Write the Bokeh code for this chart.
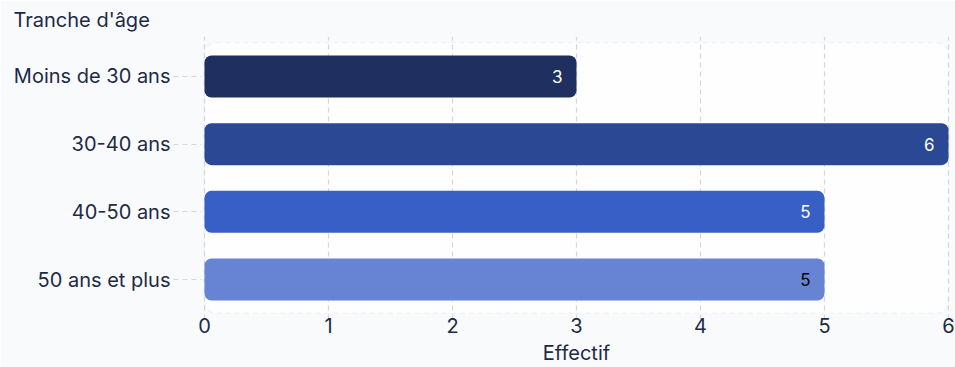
from bokeh.plotting import figure
from bokeh.models import Range1d, FixedTicker, BoxAnnotation, Title, ColumnDataSource, FactorRange
from bokeh.core.properties import value
from bokeh.embed import file_html
from bokeh.resources import INLINE

categories = ["Moins de 30 ans", "30-40 ans", "40-50 ans", "50 ans et plus"]
counts = [3, 6, 5, 5]
bar_colors = ["#1f2f60", "#2a4894", "#375fc5", "#6783d4"]
label_colors = ["#ffffff", "#ffffff", "#ffffff", "#000000"]
x_ticks = [0, 1, 2, 3, 4, 5, 6]

FONT = "Inter"
TEXT = "#1e2a45"
GRID = "#d3d6dc"
PAD = 3 / 124.0

p = figure(width=955, height=367, output_backend="svg", toolbar_location=None,
           y_range=FactorRange(factors=list(reversed(categories)), range_padding=0.09,
                               range_padding_units="absolute"),
           x_range=Range1d(-PAD, 6 + PAD),
           min_border_left=201, min_border_right=4, min_border_top=36, min_border_bottom=46)
p.background_fill_color = "#f9fafc"
p.border_fill_color = "#f9fafc"
p.outline_line_color = None

frame_box = BoxAnnotation(left=0, right=6, bottom=0, top=4,
                          fill_color="#fefefe", fill_alpha=1, line_color=GRID, line_width=1.3,
                          line_dash="5 4", border_radius=12, level="image")
p.add_layout(frame_box)

src = ColumnDataSource(dict(cat=categories, n=counts, color=bar_colors, lc=label_colors))
p.hbar(y="cat", right="n", left=0, height=0.62, fill_color="color", line_color=None,
       border_radius=7, source=src)
p.text(x="n", y="cat", text="n", text_color="lc", x_offset=-14, text_align="right",
       text_baseline="middle", text_font=value(FONT), text_font_size="17px", source=src)

p.xaxis.ticker = FixedTicker(ticks=x_ticks)
p.xaxis.axis_label = "Effectif"
p.xaxis.axis_label_text_font = FONT
p.xaxis.axis_label_text_font_style = "normal"
p.xaxis.axis_label_text_font_size = "20px"
p.xaxis.axis_label_text_color = TEXT
p.xaxis.axis_label_standoff = 5
p.xaxis.major_label_text_font = FONT
p.xaxis.major_label_text_font_size = "20px"
p.xaxis.major_label_text_color = TEXT
p.xaxis.major_label_standoff = -2
p.xaxis.major_tick_out = 0
p.xaxis.major_tick_in = 0
p.xaxis.minor_tick_line_color = None
p.xaxis.axis_line_color = None

p.yaxis.major_label_text_font = FONT
p.yaxis.major_label_text_font_size = "20px"
p.yaxis.major_label_text_color = TEXT
p.yaxis.major_tick_out = 28
p.yaxis.major_tick_in = 0
p.yaxis.major_tick_line_color = GRID
p.yaxis.major_tick_line_dash = "5 4"
p.yaxis.major_label_standoff = 3
p.yaxis.axis_line_color = None

p.xgrid.grid_line_color = GRID
p.xgrid.grid_line_dash = "5 4"
p.xgrid.grid_line_width = 1.2
p.ygrid.grid_line_color = None

t = Title(text="Tranche d'âge", align="left", offset=-188, standoff=10, text_font=FONT,
          text_font_size="20px", text_font_style="normal", text_color=TEXT)
p.add_layout(t, "above")

open("out.html", "w").write(file_html(p, INLINE))
